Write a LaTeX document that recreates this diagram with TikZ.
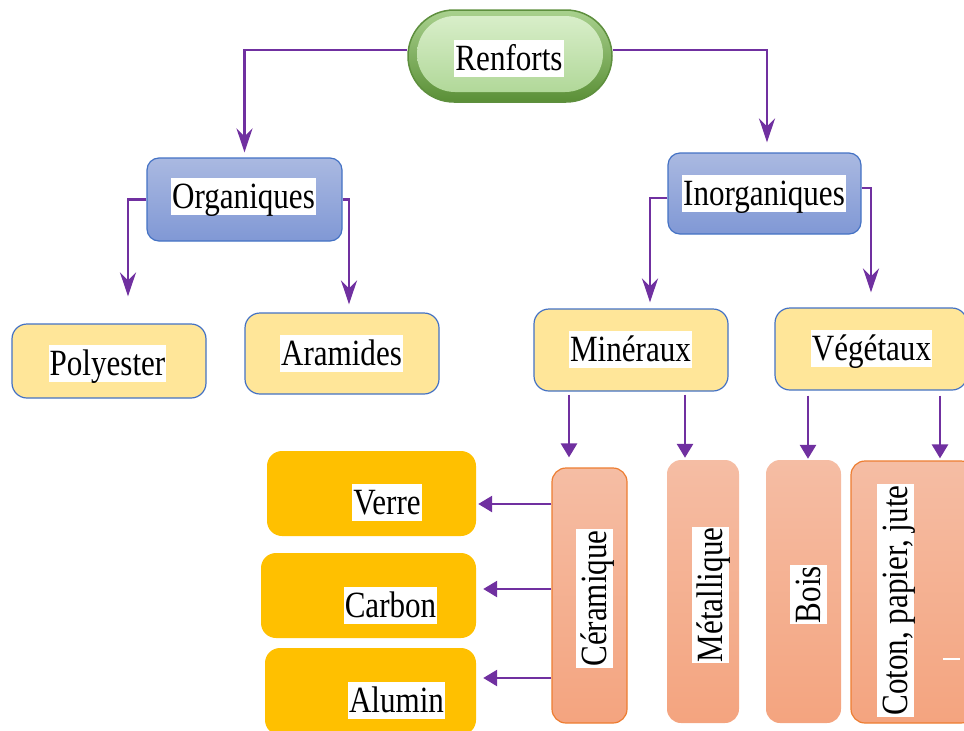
\documentclass[tikz,border=0pt]{standalone}
\usepackage{fontspec}
\setmainfont[FakeStretch=0.84]{Liberation Serif}
\usetikzlibrary{arrows.meta,calc}
\definecolor{arrowpurple}{HTML}{7030A0}
\definecolor{bluetop}{HTML}{AAB9E1}
\definecolor{bluebot}{HTML}{8098D5}
\definecolor{blueline}{HTML}{4472C4}
\definecolor{lightyellow}{HTML}{FFE699}
\definecolor{gold}{HTML}{FFC000}
\definecolor{peachtop}{HTML}{F5BDA4}
\definecolor{peachbot}{HTML}{F4A47F}
\definecolor{orangeline}{HTML}{ED7D31}
\definecolor{greenrimtop}{HTML}{A9D18E}
\definecolor{greenrimbot}{HTML}{5A8F36}
\definecolor{greenline}{HTML}{5E8F3E}
\definecolor{greentop}{HTML}{D8EEC9}
\definecolor{greenbot}{HTML}{B1D899}
\begin{document}
\begin{tikzpicture}[x=1pt,y=-1pt,
  lbl/.style={fill=white, inner xsep=1pt, inner ysep=0.5pt,
    text height=30pt, text depth=6pt, font=\fontsize{37}{40}\selectfont},
  bluebox/.style={rectangle, rounded corners=12pt, draw=blueline, line width=1.2pt,
    top color=bluetop, bottom color=bluebot},
  yelbox/.style={rectangle, rounded corners=15pt, draw=blueline, line width=1.2pt,
    fill=lightyellow},
  goldbox/.style={rectangle, rounded corners=15pt, fill=gold},
  peachbox/.style={rectangle, rounded corners=14pt,
    top color=peachtop, bottom color=peachbot},
  arr/.style={draw=arrowpurple, line width=2.7pt,
    -{Triangle[length=14pt,width=16pt]}},
  sarr/.style={draw=arrowpurple, line width=2.7pt,
    -{Stealth[length=24pt,width=16pt,inset=8pt]}}
]
\useasboundingbox (0,0) rectangle (964,731);
\clip (0,0) rectangle (964,731);

% top node
\node[rectangle, rounded corners=46pt, minimum width=204pt, minimum height=92pt,
  draw=greenline, line width=1.5pt, top color=greenrimtop, bottom color=greenrimbot]
  (renf) at (510,56) {};
\node[rectangle, rounded corners=38pt, minimum width=186pt, minimum height=76pt,
  top color=greentop, bottom color=greenbot] (renfin) at (510,54) {};
\node[lbl] (renft) at (509,58.5) {Renforts};

% second level
\node[bluebox, minimum width=195pt, minimum height=83pt] (org) at (244.5,199.5) {};
\node[lbl] (orgt) at (243.5,196.5) {Organiques};
\node[bluebox, minimum width=193pt, minimum height=81pt] (inorg) at (764.5,193.5) {};
\node[lbl] (inorgt) at (764,193) {Inorganiques};

% third level
\node[yelbox, minimum width=194pt, minimum height=74pt] (poly) at (109,361) {};
\node[lbl] (polyt) at (107.5,363) {Polyester};
\node[yelbox, minimum width=194pt, minimum height=81pt] (aram) at (342,353.5) {};
\node[lbl] (aramt) at (341.5,353) {Aramides};
\node[yelbox, minimum width=194pt, minimum height=82pt] (mine) at (631,350) {};
\node[lbl] (minet) at (630.5,349) {Minéraux};
\node[yelbox, minimum width=192pt, minimum height=82pt] (vege) at (871,349) {};
\node[lbl] (veget) at (871.5,348) {Végétaux};

% vertical boxes
\node[peachbox, draw=orangeline, line width=1.2pt, minimum width=75pt, minimum height=255pt]
  (cera) at (589.5,595.5) {};
\node[lbl, rotate=90] (cerat) at (594,598.5) {Céramique};
\node[peachbox, minimum width=72pt, minimum height=263pt] (meta) at (703,591.5) {};
\node[lbl, rotate=90] (metat) at (710,595) {Métallique};
\node[peachbox, minimum width=75pt, minimum height=263pt] (bois) at (803.5,591.5) {};
\node[lbl, rotate=90] (boist) at (808.5,594.5) {Bois};
\node[peachbox, draw=orangeline, line width=1.2pt, minimum width=124pt, minimum height=262pt]
  (coton) at (913,592) {};
\node[lbl, rotate=90] (cotont) at (895.5,600.5) {Coton, papier, jute};
\draw[white, line width=1.2pt] (943,659) -- (960,659);

% ceramic products
\node[goldbox, minimum width=209pt, minimum height=85pt] (verre) at (371.5,493.5) {};
\node[lbl] (verret) at (387,502) {Verre};
\node[goldbox, minimum width=215pt, minimum height=85pt] (carb) at (368.5,595.5) {};
\node[lbl] (carbt) at (390.5,605) {Carbon};
\node[goldbox, minimum width=211pt, minimum height=87pt] (alum) at (370.5,691.5) {};
\node[lbl] (alumt) at (396.5,700) {Alumin};

% connectors from the top node
\draw[sarr, shorten >=5pt] ([yshift=6pt]renf.west) -| (org.north);
\draw[sarr, shorten >=10pt] ([yshift=6pt]renf.east) -| ([xshift=2.5pt]inorg.north);

% connectors from the second level
\draw[sarr, shorten >=27pt] (org.west) -| ([xshift=19pt]poly.north);
\draw[sarr, shorten >=8pt] (org.east) -| ([xshift=7pt]aram.north);
\draw[sarr, shorten >=6pt] ([yshift=-4.5pt]inorg.west) -| ([xshift=19pt]mine.north);
\draw[sarr, shorten >=15pt] ([yshift=5.5pt]inorg.east) -| (vege.north);

% connectors to the vertical boxes
\coordinate (m1) at ([xshift=-62pt,yshift=-3pt]mine.south);
\coordinate (m2) at ([xshift=54pt,yshift=-3pt]mine.south);
\coordinate (v1) at ([xshift=-63pt,yshift=-5pt]vege.south);
\coordinate (v2) at ([xshift=69pt,yshift=-5pt]vege.south);
\draw[arr, shorten >=10pt] (m1) -- (m1 |- cera.north);
\draw[arr, shorten >=2pt] (m2) -- (m2 |- meta.north);
\draw[arr, shorten >=1pt] (v1) -- (v1 |- bois.north);
\draw[arr, shorten >=2pt] (v2) -- (v2 |- coton.north);

% connectors to the ceramic products
\coordinate (c1) at ([yshift=-10.5pt]verre.east);
\coordinate (c2) at ([yshift=6.5pt]carb.east);
\coordinate (c3) at ([yshift=13.5pt]alum.east);
\draw[arr, shorten >=2pt] (cera.west |- c1) -- (c1);
\draw[arr, shorten >=7pt] (cera.west |- c2) -- (c2);
\draw[arr, shorten >=7pt] (cera.west |- c3) -- (c3);
\end{tikzpicture}
\end{document}
